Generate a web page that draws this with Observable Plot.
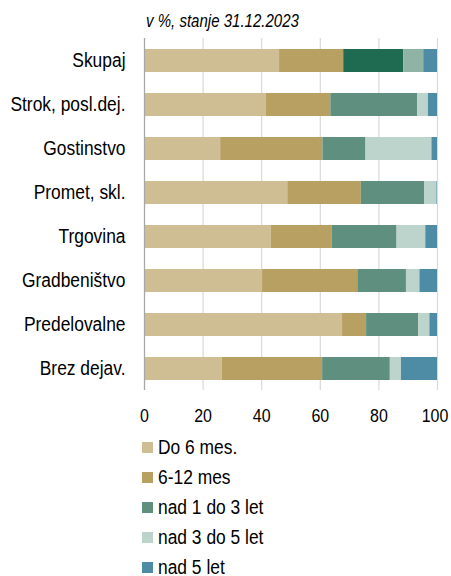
<!DOCTYPE html>
<html>
<head>
<meta charset="utf-8">
<script src="https://cdn.jsdelivr.net/npm/d3@7"></script>
<script src="https://cdn.jsdelivr.net/npm/@observablehq/plot@0.6"></script>
<style>
  html, body { margin: 0; padding: 0; background: #fff; }
  body { width: 451px; height: 576px; position: relative; overflow: hidden;
         font-family: "Liberation Sans", Arial, sans-serif; color: #000; }
  #title { position: absolute; left: 146px; top: 9px; font-size: 18px; font-style: italic; line-height: 24px; white-space: nowrap;
           transform: scaleX(0.835); transform-origin: 0 0; }
  #chart { position: absolute; left: 0; top: 38px; }
  #legend { position: absolute; left: 142px; top: 432px; }
  .item { height: 30px; display: flex; align-items: center; font-size: 20px; white-space: nowrap; }
  .sw { width: 11px; height: 11px; margin-right: 5px; flex: none; }
  .lbl { display: inline-block; transform: scaleX(0.87); transform-origin: 0 50%; }
</style>
</head>
<body>
<div id="title">v %, stanje 31.12.2023</div>
<div id="chart"></div>
<div id="legend"></div>
<script>
const categories = ["Skupaj", "Strok, posl.dej.", "Gostinstvo", "Promet, skl.", "Trgovina", "Gradbeništvo", "Predelovalne", "Brez dejav."];
const seriesNames = ["Do 6 mes.", "6-12 mes", "nad 1 do 3 let", "nad 3 do 5 let", "nad 5 let"];
const do6mes    = [46.1, 41.6, 26.0, 48.9, 43.3, 40.3, 67.6, 26.5];
const mes6to12  = [21.9, 22.0, 34.9, 25.1, 20.8, 32.5,  8.2, 34.3];
const let1to3   = [20.5, 29.6, 14.7, 21.7, 22.1, 16.6, 17.8, 23.1];
const let3to5   = [ 6.8,  3.7, 22.5,  4.1,  9.8,  4.6,  3.8,  3.8];
const nad5let   = [ 4.7,  3.1,  1.9,  0.2,  4.0,  6.0,  2.6, 12.3];
const xTicks = [0, 20, 40, 60, 80, 100];
const seriesColors = ["#cfbe93", "#b89f62", "#5f8f7e", "#bcd4cc", "#4e8ba5"];
const highlightColors = ["#cfbe93", "#b89f62", "#1e6b52", "#8fb3a5", "#4e8ba5"];

const seriesValues = [do6mes, mes6to12, let1to3, let3to5, nad5let];
const rows = [];
categories.forEach((cat, i) => {
  let acc = 0;
  seriesValues.forEach((vals, s) => {
    const v = vals[i];
    rows.push({
      category: cat,
      series: seriesNames[s],
      x1: acc,
      x2: acc + v,
      color: (i === 0 ? highlightColors : seriesColors)[s]
    });
    acc += v;
  });
});

const chart = Plot.plot({
  width: 451,
  height: 392,
  marginLeft: 144,
  marginRight: 14,
  marginTop: 0,
  marginBottom: 40,
  style: { fontFamily: "'Liberation Sans', Arial, sans-serif", fontSize: "20px", color: "#000", background: "#fff", overflow: "visible" },
  x: { domain: [0, 100], ticks: xTicks, tickSize: 0, tickPadding: 18, label: null },
  y: { domain: categories, paddingInner: 0.48, paddingOuter: 0.24, tickSize: 0, tickPadding: 19, label: null },
  color: { type: "identity" },
  marks: [
    Plot.gridX(xTicks, { stroke: "#d9d9d9", strokeOpacity: 1, strokeWidth: 1.2 }),
    Plot.barX(rows, { x1: "x1", x2: "x2", y: "category", fill: "color" }),
    Plot.ruleX([0], { stroke: "#a6a6a6", strokeWidth: 1.2 })
  ]
});
document.getElementById("chart").appendChild(chart);

// condense axis labels horizontally (reference uses a narrow face)
function condense(selector, k, size) {
  chart.querySelectorAll(selector).forEach(t => {
    if (size) t.style.fontSize = size;
    const w = t.getComputedTextLength();
    if (w > 0) {
      t.setAttribute("textLength", (w * k).toFixed(2));
      t.setAttribute("lengthAdjust", "spacingAndGlyphs");
    }
  });
}
condense('g[aria-label="x-axis tick label"] text', 0.84, "19px");
condense('g[aria-label="y-axis tick label"] text', 0.87);
// keep the last tick label inside the window
const xLabels = chart.querySelectorAll('g[aria-label="x-axis tick label"] text');
if (xLabels.length) xLabels[xLabels.length - 1].setAttribute("dx", "-2.5");

const legend = document.getElementById("legend");
seriesNames.forEach((name, s) => {
  const item = document.createElement("div");
  item.className = "item";
  const sw = document.createElement("span");
  sw.className = "sw";
  sw.style.background = seriesColors[s];
  const label = document.createElement("span");
  label.className = "lbl";
  label.textContent = name;
  item.appendChild(sw);
  item.appendChild(label);
  legend.appendChild(item);
});
</script>
</body>
</html>
